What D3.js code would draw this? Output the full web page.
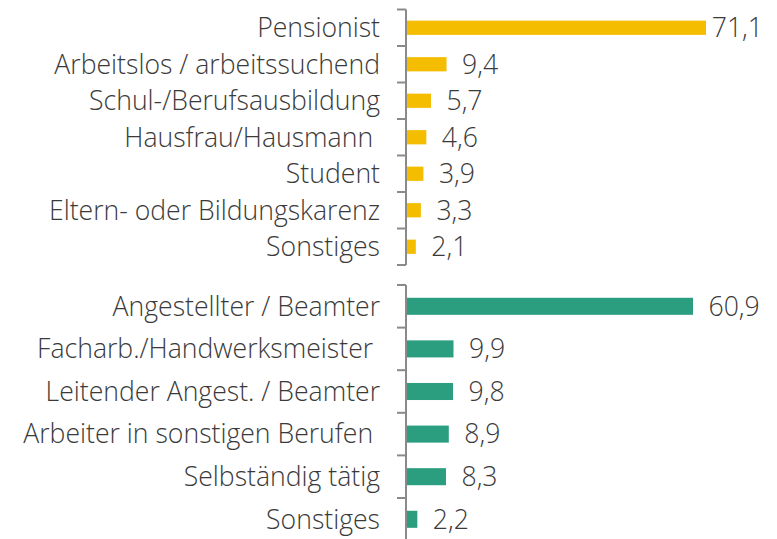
<!DOCTYPE html>
<html>
<head>
<meta charset="utf-8">
<script src="https://cdn.jsdelivr.net/npm/d3@7"></script>
<style>
  body { margin: 0; background: #fff; }
  text { font-family: "Open Sans", "Noto Sans", sans-serif; font-weight: 300; fill: #3a3a3a; white-space: pre; }
</style>
</head>
<body>
<div id="viz"></div>
<script>
// top group: not employed
var statusLabels = ["Pensionist", "Arbeitslos / arbeitssuchend", "Schul-/Berufsausbildung", "Hausfrau/Hausmann ", "Student", "Eltern- oder Bildungskarenz", "Sonstiges"];
var statusValues = [71.1, 9.4, 5.7, 4.6, 3.9, 3.3, 2.1];

// bottom group: employed
var jobLabels = ["Angestellter / Beamter", "Facharb./Handwerksmeister ", "Leitender Angest. / Beamter", "Arbeiter in sonstigen Berufen ", "Selbständig tätig", "Sonstiges"];
var jobValues = [60.9, 9.9, 9.8, 8.9, 8.3, 2.2];

var width = 777, height = 539;
var axisX = 406;
var fontSize = 26.6;

var svg = d3.select("#viz").append("svg")
    .attr("width", width)
    .attr("height", height);

function fmt(v){ return d3.format(".1f")(v).replace(".", ","); }

function drawGroup(labels, values, color, top, bottom, xMax, padding, axisBottom){
    var y = d3.scaleBand().domain(labels).range([top, bottom]).paddingInner(padding).paddingOuter(padding/2);
    var yb = d3.scaleBand().domain(labels).range([top, bottom]);
    var x = d3.scaleLinear().domain([0, d3.max(values)]).range([axisX + 1, xMax]);
    var g = svg.append("g");

    g.append("line")
        .attr("x1", axisX).attr("x2", axisX)
        .attr("y1", top).attr("y2", axisBottom)
        .attr("stroke", "#8a8a8a").attr("stroke-width", 2);

    var edges = labels.map(function(d){ return yb(d); }).concat([bottom]);
    g.selectAll(".tick").data(edges).enter().append("line")
        .attr("x1", axisX - 9).attr("x2", axisX)
        .attr("y1", function(d){ return d; }).attr("y2", function(d){ return d; })
        .attr("stroke", "#8a8a8a").attr("stroke-width", 2);

    g.selectAll("rect").data(values).enter().append("rect")
        .attr("x", x(0))
        .attr("y", function(d, i){ return y(labels[i]); })
        .attr("width", function(d){ return x(d) - x(0); })
        .attr("height", y.bandwidth())
        .attr("fill", color);

    g.selectAll(".cat").data(labels).enter().append("text")
        .attr("x", 380)
        .attr("y", function(d){ return yb(d) + yb.bandwidth() / 2; })
        .attr("dy", "0.35em")
        .attr("text-anchor", "end")
        .attr("font-size", fontSize)
        .text(function(d){ return d; });

    g.selectAll(".val").data(values).enter().append("text")
        .attr("y", function(d, i){ return yb(labels[i]) + yb.bandwidth() / 2; })
        .attr("dy", "0.35em")
        .attr("font-size", fontSize)
        .text(fmt)
        .attr("x", function(d){
            // keep the label inside the chart on the right
            var w = this.getComputedTextLength();
            return Math.min(x(d) + 15.5, 763 - w);
        });
}

drawGroup(statusLabels, statusValues, "#f5bd00", 9.5, 265, 706, 0.61, 265);
drawGroup(jobLabels, jobValues, "#2a9e7f", 285, 540.6, 693, 0.6, 539);
</script>
</body>
</html>
